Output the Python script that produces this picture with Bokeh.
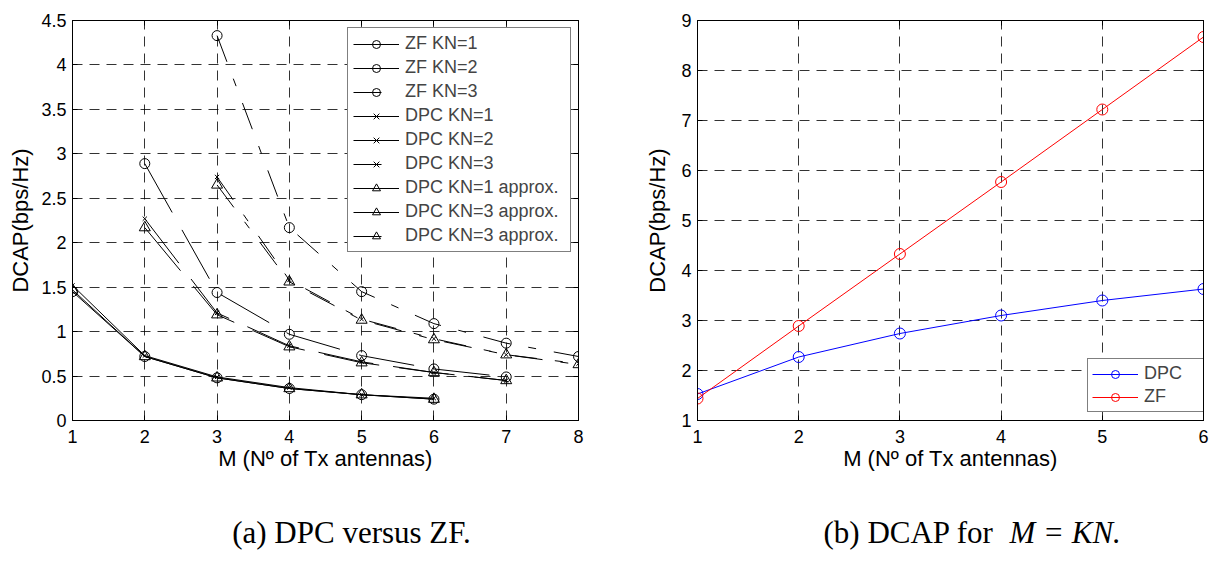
from bokeh.plotting import figure
from bokeh.models import (Legend, LegendItem, LinearAxis, FixedTicker, NumeralTickFormatter,
                          CustomJSTickFormatter, Label, Range1d)
from bokeh.layouts import row, column
from bokeh.embed import file_html
from bokeh.resources import INLINE

# ---------------- data ----------------
M_kn1 = [1, 2, 3, 4, 5, 6]
M_kn2 = [2, 3, 4, 5, 6, 7]
M_kn3 = [3, 4, 5, 6, 7, 8]

zf_kn1 = [1.45, 0.72, 0.48, 0.36, 0.29, 0.24]
zf_kn2 = [2.89, 1.44, 0.97, 0.73, 0.58, 0.49]
zf_kn3 = [4.33, 2.17, 1.45, 1.09, 0.87, 0.72]

dpc_kn1 = [1.52, 0.73, 0.49, 0.37, 0.29, 0.25]
dpc_kn2 = [2.27, 1.21, 0.84, 0.66, 0.54, 0.45]
dpc_kn3 = [2.74, 1.58, 1.14, 0.92, 0.74, 0.64]

apx_kn1 = [1.47, 0.72, 0.48, 0.36, 0.29, 0.24]
apx_kn2 = [2.17, 1.19, 0.83, 0.65, 0.54, 0.45]
apx_kn3 = [2.65, 1.56, 1.13, 0.91, 0.74, 0.63]

M_b = [1, 2, 3, 4, 5, 6]
dpc_b = [1.53, 2.27, 2.74, 3.10, 3.40, 3.63]
zf_b = [1.44, 2.89, 4.33, 5.77, 7.22, 8.67]

xticks_a = [1, 2, 3, 4, 5, 6, 7, 8]
yticks_a = [0, 0.5, 1, 1.5, 2, 2.5, 3, 3.5, 4, 4.5]
xticks_b = [1, 2, 3, 4, 5, 6]
yticks_b = [1, 2, 3, 4, 5, 6, 7, 8, 9]

labels_a = ["ZF KN=1", "ZF KN=2", "ZF KN=3", "DPC KN=1", "DPC KN=2", "DPC KN=3",
            "DPC KN=1 approx.", "DPC KN=3 approx.", "DPC KN=3 approx."]
labels_b = ["DPC", "ZF"]

XLABEL = "M (N\u00ba of Tx antennas)"
YLABEL = "DCAP(bps/Hz)"
CAP_A = "(a) DPC versus ZF."
CAP_B1 = "(b) DCAP for"
CAP_B2 = "M = KN."

FONT = "Liberation Sans"
SERIF = "Liberation Serif"

DASH2 = "56 20"
DASH3 = "28 18 8 18"


def style(p, xticks, yticks, ylabel_standoff):
    p.outline_line_color = "black"
    p.outline_line_width = 1
    p.outline_line_alpha = 1
    for ax in p.xaxis + p.yaxis:
        ax.major_tick_in = 5
        ax.major_tick_out = 0
        ax.minor_tick_line_color = None
        ax.axis_line_color = "black"
        ax.major_tick_line_color = "black"
        ax.major_label_text_font = FONT
        ax.major_label_text_font_size = "18px"
        ax.major_label_text_color = "black"
        ax.axis_label_text_font = FONT
        ax.axis_label_text_font_size = "22px"
        ax.axis_label_text_font_style = "normal"
        ax.axis_label_text_color = "black"
    p.xaxis.ticker = FixedTicker(ticks=xticks)
    p.yaxis.ticker = FixedTicker(ticks=yticks)
    p.yaxis.formatter = NumeralTickFormatter(format="0.[0]")
    p.xaxis.major_label_standoff = 9
    p.yaxis.major_label_standoff = 6
    p.xaxis.axis_label_standoff = 0
    p.yaxis.axis_label_standoff = ylabel_standoff
    p.xaxis.axis_label = XLABEL
    p.yaxis.axis_label = YLABEL
    blank = CustomJSTickFormatter(code="return ''")
    top = LinearAxis(ticker=FixedTicker(ticks=xticks), formatter=blank, major_tick_in=5,
                     major_tick_out=0, minor_tick_line_color=None, major_label_standoff=0,
                     major_label_text_font_size="1px")
    right = LinearAxis(ticker=FixedTicker(ticks=yticks), formatter=blank, major_tick_in=5,
                       major_tick_out=0, minor_tick_line_color=None, major_label_standoff=0,
                       major_label_text_font_size="1px")
    p.add_layout(top, "above")
    p.add_layout(right, "right")
    p.xgrid.ticker = FixedTicker(ticks=xticks)
    p.ygrid.ticker = FixedTicker(ticks=yticks)
    p.grid.grid_line_color = "black"
    p.grid.grid_line_alpha = 0.8
    p.grid.grid_line_dash = "10 7"
    p.grid.grid_line_width = 1


# ---------------- figure (a) ----------------
pa = figure(frame_width=506, frame_height=400, output_backend="svg", toolbar_location=None,
            x_range=Range1d(1, 8), y_range=Range1d(0, 4.5),
            min_border_left=72, min_border_right=10, min_border_top=20, min_border_bottom=60)
style(pa, xticks_a, yticks_a, 5)

series = [
    (M_kn1, zf_kn1, "circle", 10, None),
    (M_kn2, zf_kn2, "circle", 10, DASH2),
    (M_kn3, zf_kn3, "circle", 10, DASH3),
    (M_kn1, dpc_kn1, "x", 6, None),
    (M_kn2, dpc_kn2, "x", 6, DASH2),
    (M_kn3, dpc_kn3, "x", 6, DASH3),
    (M_kn1, apx_kn1, "triangle", 11, None),
    (M_kn2, apx_kn2, "triangle", 11, DASH2),
    (M_kn3, apx_kn3, "triangle", 11, DASH3),
]
items = []
for (xs, ys, mk, sz, dash), lab in zip(series, labels_a):
    kw = {} if dash is None else {"line_dash": dash}
    rl = pa.line(xs, ys, line_color="black", line_width=1, **kw)
    rm = pa.scatter(xs, ys, marker=mk, size=sz, fill_color=None, line_color="black", line_width=1)
    items.append(LegendItem(label=lab, renderers=[rl, rm]))

leg_a = Legend(items=items, location="top_right", margin=7)
leg_a.label_text_font = FONT
leg_a.label_text_font_size = "18px"
leg_a.glyph_width = 46
leg_a.glyph_height = 20
leg_a.label_height = 20
leg_a.label_width = 160
leg_a.spacing = 3
leg_a.padding = 5
leg_a.label_standoff = 6
leg_a.border_line_color = "black"
leg_a.border_line_width = 1
leg_a.background_fill_alpha = 1
pa.add_layout(leg_a)

# ---------------- figure (b) ----------------
pb = figure(frame_width=506, frame_height=400, output_backend="svg", toolbar_location=None,
            x_range=Range1d(1, 6), y_range=Range1d(1, 9),
            min_border_left=109, min_border_right=6, min_border_top=20, min_border_bottom=60)
style(pb, xticks_b, yticks_b, 8)

r1l = pb.line(M_b, dpc_b, line_color="#0000ff", line_width=1)
r1m = pb.scatter(M_b, dpc_b, marker="circle", size=11, fill_color=None, line_color="#0000ff")
r2l = pb.line(M_b, zf_b, line_color="#ff0000", line_width=1)
r2m = pb.scatter(M_b, zf_b, marker="circle", size=11, fill_color=None, line_color="#ff0000")
leg_b = Legend(items=[LegendItem(label=labels_b[0], renderers=[r1l, r1m]),
                      LegendItem(label=labels_b[1], renderers=[r2l, r2m])],
               location=(390, 8), margin=0)
leg_b.label_text_font = FONT
leg_b.label_text_font_size = "18px"
leg_b.glyph_width = 46
leg_b.glyph_height = 20
leg_b.label_height = 20
leg_b.label_width = 56
leg_b.spacing = 2
leg_b.padding = 4
leg_b.label_standoff = 6
leg_b.border_line_color = "black"
leg_b.border_line_width = 1
leg_b.background_fill_alpha = 1
pb.add_layout(leg_b)

# ---------------- captions strip ----------------
CW, CH = 1209, 85
pc = figure(width=CW, height=CH, output_backend="svg", toolbar_location=None,
            x_range=Range1d(0, CW), y_range=Range1d(CH, 0),
            min_border=0, outline_line_color=None)
pc.axis.visible = False
pc.grid.visible = False
pc.add_layout(Label(x=351, y=52, text=CAP_A, text_align="center", text_baseline="alphabetic",
                    text_font=SERIF, text_font_size="31px", text_color="black"))
pc.add_layout(Label(x=823, y=52, text=CAP_B1, text_align="left", text_baseline="alphabetic",
                    text_font=SERIF, text_font_size="31px", text_color="black"))
pc.add_layout(Label(x=1009, y=52, text=CAP_B2, text_align="left", text_baseline="alphabetic",
                    text_font=SERIF, text_font_size="31px", text_font_style="italic",
                    text_color="black"))

layout = column(row(pa, pb), pc)
open("out.html", "w").write(file_html(layout, INLINE))
